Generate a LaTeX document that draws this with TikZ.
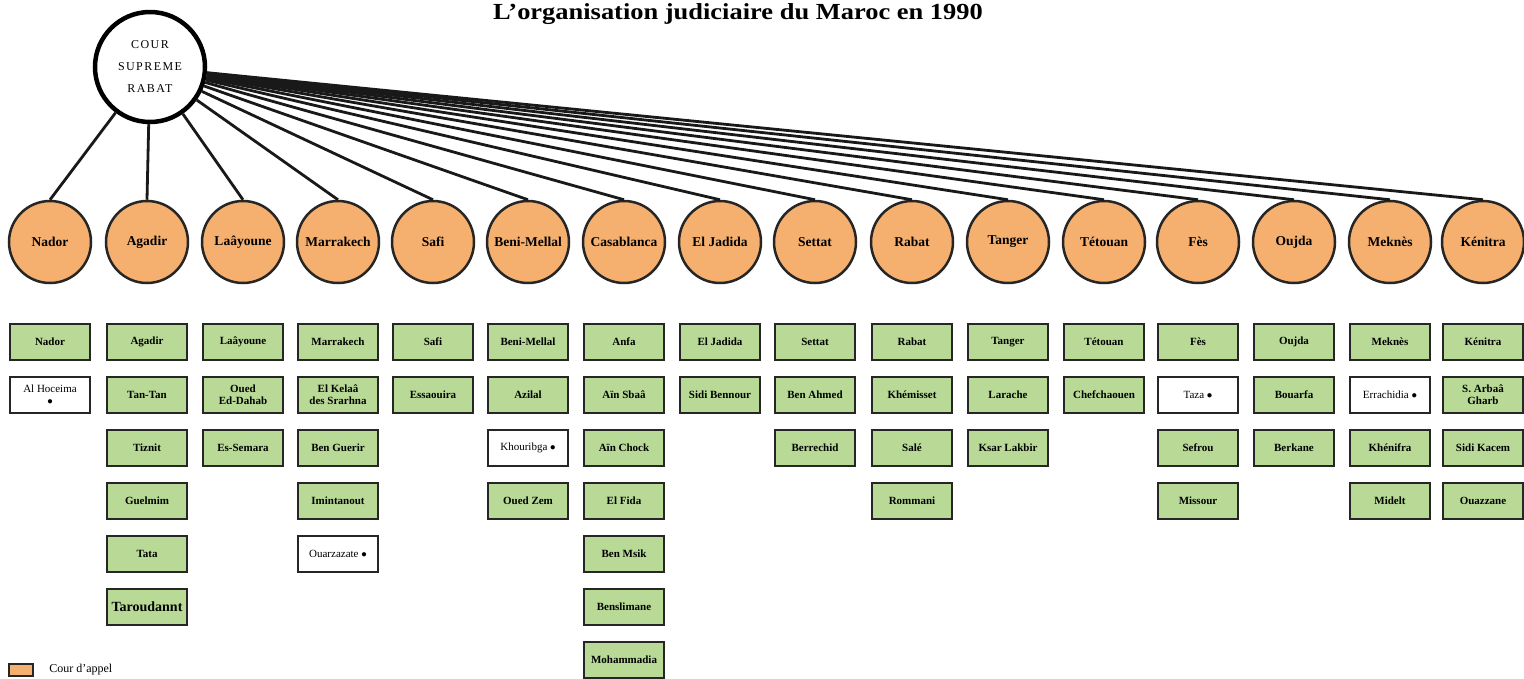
\documentclass[tikz,border=0pt]{standalone}
\usepackage{fontspec}
\setmainfont{Liberation Serif}
\usepackage{xcolor}
\usepackage{tikz}
\usetikzlibrary{positioning}
\definecolor{jorange}{HTML}{F5AF6E}
\definecolor{jgreen}{HTML}{B8DA96}
\tikzset{
  jsup/.style={circle, draw=black, line width=4.5pt, fill=white,
               minimum size=110pt, inner sep=0pt, align=center,
               font=\fontsize{12}{22}\selectfont\addfontfeatures{LetterSpace=12}},
  jappel/.style={circle, draw=black!85, line width=2.5pt, fill=jorange,
                 minimum size=82pt, inner sep=0pt,
                 font=\bfseries\fontsize{13.5}{14}\selectfont},
  jtrib/.style={rectangle, draw=black!85, line width=2.8pt,
                minimum width=80pt, minimum height=36pt, inner sep=1pt,
                align=center, font=\bfseries\fontsize{11}{12}\selectfont},
  jlink/.style={black!90, line width=2.8pt},
  jtitre/.style={font=\bfseries\fontsize{23}{24}\selectfont},
  jleg/.style={font=\fontsize{12}{13}\selectfont},
}

\begin{document}
\begin{tikzpicture}[x=1pt,y=-1pt]
  \useasboundingbox (0,0) rectangle (1524,678);

  \node[jtitre, anchor=base] (titre) at (738,19)
    {\scalebox{1.15}[1]{L'organisation judiciaire du Maroc en 1990}};

  \node[jsup] (sup) at (150,67) {COUR\\SUPREME\\RABAT};

  % cours d'appel et tribunaux
  \foreach \x/\ville/\liste [count=\i] in {%
      50/Nador/{Nador/jgreen, {\mdseries Al Hoceima\\$\bullet$}/white},
      147/Agadir/{Agadir/jgreen, Tan-Tan/jgreen, Tiznit/jgreen,
                  Guelmim/jgreen, Tata/jgreen,
                  {\fontsize{14}{15}\selectfont Taroudannt}/jgreen},
      243/Laâyoune/{Laâyoune/jgreen, {Oued\\Ed-Dahab}/jgreen, Es-Semara/jgreen},
      338/Marrakech/{Marrakech/jgreen, {El Kelaâ\\des Srarhna}/jgreen,
                     Ben Guerir/jgreen, Imintanout/jgreen,
                     {\mdseries Ouarzazate $\bullet$}/white},
      433/Safi/{Safi/jgreen, Essaouira/jgreen},
      528/Beni-Mellal/{Beni-Mellal/jgreen, Azilal/jgreen,
                       {\mdseries Khouribga $\bullet$}/white, Oued Zem/jgreen},
      624/Casablanca/{Anfa/jgreen, Aïn Sbaâ/jgreen, Aïn Chock/jgreen,
                      El Fida/jgreen, Ben Msik/jgreen, Benslimane/jgreen,
                      Mohammadia/jgreen},
      720/El Jadida/{El Jadida/jgreen, Sidi Bennour/jgreen},
      815/Settat/{Settat/jgreen, Ben Ahmed/jgreen, Berrechid/jgreen},
      912/Rabat/{Rabat/jgreen, Khémisset/jgreen, Salé/jgreen, Rommani/jgreen},
      1008/Tanger/{Tanger/jgreen, Larache/jgreen, Ksar Lakbir/jgreen},
      1104/Tétouan/{Tétouan/jgreen, Chefchaouen/jgreen},
      1198/Fès/{Fès/jgreen, {\mdseries Taza $\bullet$}/white, Sefrou/jgreen,
                Missour/jgreen},
      1294/Oujda/{Oujda/jgreen, Bouarfa/jgreen, Berkane/jgreen},
      1390/Meknès/{Meknès/jgreen, {\mdseries Errachidia $\bullet$}/white,
                   Khénifra/jgreen, Midelt/jgreen},
      1483/Kénitra/{Kénitra/jgreen, {S. Arbaâ\\Gharb}/jgreen, Sidi Kacem/jgreen,
                    Ouazzane/jgreen}}
  {
    \node[jappel] (ca\i) at (\x,242) {\ville};
    \draw[jlink] (sup) -- (ca\i.north);
    \foreach \lbl/\fc [count=\j] in \liste
      \node[jtrib, fill=\fc] (tr\i-\j) at (\x,{342+53*(\j-1)}) {\lbl};
  }

  % legende
  \node[draw=black!85, line width=1.5pt, fill=jorange, minimum width=24pt,
        minimum height=12pt, inner sep=0pt] (legcle) at (21,670) {};
  \node[jleg, right=12pt of legcle] (legtxt) {Cour d'appel};

\end{tikzpicture}
\end{document}
